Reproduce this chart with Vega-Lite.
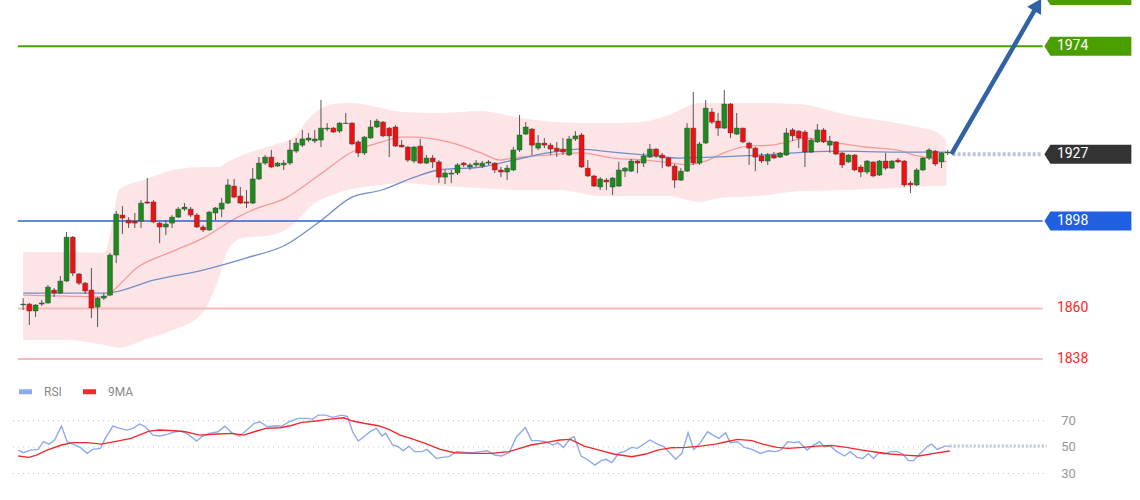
{
"$schema": "https://vega.github.io/schema/vega-lite/v6.json",
"background": "white",
"padding": 0,
"spacing": 0,
"config": {"view": {"stroke": null}, "font": "Roboto"},
"resolve": {"scale": {"x": "independent", "y": "independent", "color": "independent"}},
"datasets": {
"candles": [
{"t":0,"o":1861.5,"c":1861.9,"h":1864.5,"l":1859.3},
{"t":1,"o":1861.9,"c":1858.9,"h":1862.4,"l":1852.8},
{"t":2,"o":1858.9,"c":1861.5,"h":1861.9,"l":1856.3},
{"t":3,"o":1861.9,"c":1862.4,"h":1863.7,"l":1861.1},
{"t":4,"o":1862.4,"c":1869.3,"h":1870.2,"l":1862.0},
{"t":5,"o":1868.0,"c":1866.7,"h":1868.9,"l":1865.0},
{"t":6,"o":1866.7,"c":1871.9,"h":1874.1,"l":1866.3},
{"t":7,"o":1871.9,"c":1891.0,"h":1893.2,"l":1871.5},
{"t":8,"o":1891.0,"c":1875.4,"h":1891.5,"l":1874.1},
{"t":9,"o":1875.0,"c":1871.0,"h":1875.4,"l":1870.2},
{"t":10,"o":1871.0,"c":1867.6,"h":1871.5,"l":1866.3},
{"t":11,"o":1868.0,"c":1860.2,"h":1877.6,"l":1855.8},
{"t":12,"o":1860.6,"c":1864.5,"h":1865.0,"l":1851.9},
{"t":13,"o":1864.5,"c":1865.4,"h":1866.7,"l":1863.7},
{"t":14,"o":1865.8,"c":1883.2,"h":1884.1,"l":1865.4},
{"t":15,"o":1883.2,"c":1901.0,"h":1902.4,"l":1879.7},
{"t":16,"o":1900.6,"c":1899.3,"h":1904.5,"l":1892.4},
{"t":17,"o":1898.4,"c":1897.1,"h":1899.7,"l":1895.0},
{"t":18,"o":1898.0,"c":1897.1,"h":1901.5,"l":1895.0},
{"t":19,"o":1898.0,"c":1905.8,"h":1907.1,"l":1895.0},
{"t":20,"o":1906.3,"c":1905.8,"h":1916.7,"l":1905.4},
{"t":21,"o":1906.3,"c":1897.6,"h":1907.1,"l":1897.1},
{"t":22,"o":1897.1,"c":1895.4,"h":1897.6,"l":1888.4},
{"t":23,"o":1895.4,"c":1896.7,"h":1898.4,"l":1891.9},
{"t":24,"o":1897.1,"c":1899.7,"h":1900.6,"l":1895.0},
{"t":25,"o":1899.7,"c":1903.2,"h":1904.1,"l":1899.3},
{"t":26,"o":1903.2,"c":1904.1,"h":1905.8,"l":1902.4},
{"t":27,"o":1903.2,"c":1900.6,"h":1904.1,"l":1899.7},
{"t":28,"o":1900.6,"c":1895.4,"h":1901.5,"l":1895.0},
{"t":29,"o":1895.4,"c":1894.1,"h":1896.3,"l":1893.2},
{"t":30,"o":1894.1,"c":1901.9,"h":1902.4,"l":1893.7},
{"t":31,"o":1901.5,"c":1903.7,"h":1904.1,"l":1898.4},
{"t":32,"o":1903.2,"c":1905.8,"h":1908.0,"l":1899.7},
{"t":33,"o":1905.8,"c":1913.7,"h":1916.3,"l":1905.4},
{"t":34,"o":1913.2,"c":1908.4,"h":1916.3,"l":1908.0},
{"t":35,"o":1908.9,"c":1905.8,"h":1912.8,"l":1905.4},
{"t":36,"o":1906.3,"c":1905.8,"h":1911.5,"l":1903.7},
{"t":37,"o":1905.8,"c":1916.3,"h":1921.0,"l":1905.4},
{"t":38,"o":1916.3,"c":1923.2,"h":1925.8,"l":1915.8},
{"t":39,"o":1923.2,"c":1925.8,"h":1926.7,"l":1922.4},
{"t":40,"o":1925.8,"c":1921.5,"h":1928.9,"l":1921.0},
{"t":41,"o":1921.9,"c":1923.2,"h":1923.7,"l":1921.5},
{"t":42,"o":1922.4,"c":1923.2,"h":1924.5,"l":1920.2},
{"t":43,"o":1923.2,"c":1928.9,"h":1933.2,"l":1922.4},
{"t":44,"o":1928.4,"c":1931.9,"h":1934.1,"l":1927.6},
{"t":45,"o":1931.0,"c":1933.7,"h":1937.6,"l":1930.2},
{"t":46,"o":1933.2,"c":1934.1,"h":1936.3,"l":1932.4},
{"t":47,"o":1932.8,"c":1933.7,"h":1937.6,"l":1931.9},
{"t":48,"o":1933.2,"c":1938.4,"h":1950.6,"l":1930.2},
{"t":49,"o":1938.0,"c":1938.4,"h":1940.6,"l":1937.1},
{"t":50,"o":1938.4,"c":1936.7,"h":1938.9,"l":1936.3},
{"t":51,"o":1937.1,"c":1940.6,"h":1941.0,"l":1936.3},
{"t":52,"o":1940.4,"c":1940.6,"h":1945.0,"l":1940.2},
{"t":53,"o":1940.6,"c":1931.5,"h":1941.0,"l":1931.0},
{"t":54,"o":1932.4,"c":1927.6,"h":1933.2,"l":1925.8},
{"t":55,"o":1927.6,"c":1934.5,"h":1935.0,"l":1926.7},
{"t":56,"o":1934.1,"c":1938.9,"h":1941.9,"l":1933.7},
{"t":57,"o":1938.9,"c":1941.5,"h":1942.4,"l":1938.4},
{"t":58,"o":1941.0,"c":1935.0,"h":1941.5,"l":1934.5},
{"t":59,"o":1938.4,"c":1935.0,"h":1938.9,"l":1925.8},
{"t":60,"o":1938.9,"c":1930.6,"h":1939.7,"l":1930.2},
{"t":61,"o":1931.0,"c":1930.2,"h":1933.2,"l":1930.0},
{"t":62,"o":1930.2,"c":1924.5,"h":1930.6,"l":1923.7},
{"t":63,"o":1924.1,"c":1930.2,"h":1930.6,"l":1923.2},
{"t":64,"o":1930.6,"c":1923.2,"h":1933.7,"l":1922.8},
{"t":65,"o":1923.2,"c":1925.4,"h":1926.7,"l":1922.8},
{"t":66,"o":1925.4,"c":1923.7,"h":1926.7,"l":1921.0},
{"t":67,"o":1923.7,"c":1917.1,"h":1924.5,"l":1914.5},
{"t":68,"o":1917.1,"c":1918.9,"h":1920.2,"l":1914.1},
{"t":69,"o":1918.4,"c":1918.9,"h":1920.2,"l":1914.5},
{"t":70,"o":1918.9,"c":1922.4,"h":1923.2,"l":1918.0},
{"t":71,"o":1923.2,"c":1922.4,"h":1923.7,"l":1921.5},
{"t":72,"o":1921.5,"c":1922.4,"h":1923.2,"l":1920.2},
{"t":73,"o":1922.4,"c":1923.2,"h":1924.5,"l":1921.5},
{"t":74,"o":1921.9,"c":1923.2,"h":1924.1,"l":1921.0},
{"t":75,"o":1923.2,"c":1923.7,"h":1924.5,"l":1922.4},
{"t":76,"o":1923.2,"c":1920.2,"h":1923.5,"l":1918.9},
{"t":77,"o":1920.2,"c":1919.3,"h":1921.5,"l":1917.1},
{"t":78,"o":1919.3,"c":1921.0,"h":1922.4,"l":1915.8},
{"t":79,"o":1920.2,"c":1928.9,"h":1930.2,"l":1919.7},
{"t":80,"o":1928.9,"c":1935.4,"h":1944.1,"l":1928.0},
{"t":81,"o":1935.8,"c":1938.9,"h":1941.0,"l":1935.4},
{"t":82,"o":1938.0,"c":1931.0,"h":1938.4,"l":1926.7},
{"t":83,"o":1929.7,"c":1931.9,"h":1935.4,"l":1928.9},
{"t":84,"o":1931.9,"c":1931.0,"h":1934.1,"l":1929.7},
{"t":85,"o":1931.0,"c":1929.3,"h":1931.9,"l":1926.7},
{"t":86,"o":1929.7,"c":1928.4,"h":1932.4,"l":1925.8},
{"t":87,"o":1929.3,"c":1928.0,"h":1934.1,"l":1926.7},
{"t":88,"o":1926.7,"c":1933.7,"h":1935.0,"l":1926.3},
{"t":89,"o":1933.7,"c":1935.0,"h":1937.1,"l":1932.8},
{"t":90,"o":1935.4,"c":1921.5,"h":1936.3,"l":1921.0},
{"t":91,"o":1921.0,"c":1917.6,"h":1924.5,"l":1917.1},
{"t":92,"o":1917.6,"c":1913.2,"h":1918.0,"l":1912.8},
{"t":93,"o":1912.8,"c":1916.3,"h":1917.1,"l":1911.5},
{"t":94,"o":1915.8,"c":1915.0,"h":1916.7,"l":1911.5},
{"t":95,"o":1912.8,"c":1916.7,"h":1917.1,"l":1909.3},
{"t":96,"o":1913.2,"c":1920.2,"h":1923.7,"l":1912.8},
{"t":97,"o":1919.7,"c":1921.0,"h":1921.5,"l":1917.1},
{"t":98,"o":1919.7,"c":1924.1,"h":1925.0,"l":1919.3},
{"t":99,"o":1924.1,"c":1923.2,"h":1924.5,"l":1918.9},
{"t":100,"o":1923.2,"c":1926.3,"h":1927.6,"l":1921.5},
{"t":101,"o":1925.8,"c":1929.3,"h":1931.5,"l":1925.4},
{"t":102,"o":1929.3,"c":1926.3,"h":1929.7,"l":1925.4},
{"t":103,"o":1926.7,"c":1925.4,"h":1927.6,"l":1921.0},
{"t":104,"o":1925.4,"c":1921.9,"h":1925.8,"l":1921.5},
{"t":105,"o":1921.9,"c":1915.8,"h":1922.8,"l":1912.4},
{"t":106,"o":1915.8,"c":1919.7,"h":1921.0,"l":1915.4},
{"t":107,"o":1919.7,"c":1938.4,"h":1940.6,"l":1919.3},
{"t":108,"o":1938.4,"c":1923.2,"h":1954.1,"l":1922.4},
{"t":109,"o":1923.2,"c":1931.5,"h":1932.4,"l":1922.4},
{"t":110,"o":1931.9,"c":1947.1,"h":1950.6,"l":1931.5},
{"t":111,"o":1945.4,"c":1941.0,"h":1947.1,"l":1940.2},
{"t":112,"o":1941.5,"c":1938.4,"h":1945.0,"l":1935.0},
{"t":113,"o":1938.4,"c":1948.9,"h":1955.0,"l":1938.0},
{"t":114,"o":1948.9,"c":1936.3,"h":1949.3,"l":1934.1},
{"t":115,"o":1935.8,"c":1938.4,"h":1945.0,"l":1935.4},
{"t":116,"o":1938.4,"c":1932.4,"h":1938.6,"l":1931.9},
{"t":117,"o":1931.9,"c":1929.7,"h":1932.4,"l":1922.4},
{"t":118,"o":1929.7,"c":1925.8,"h":1930.2,"l":1919.7},
{"t":119,"o":1926.3,"c":1924.1,"h":1927.6,"l":1923.2},
{"t":120,"o":1924.1,"c":1926.7,"h":1927.6,"l":1922.4},
{"t":121,"o":1926.7,"c":1925.4,"h":1928.0,"l":1925.0},
{"t":122,"o":1925.8,"c":1927.6,"h":1928.0,"l":1925.4},
{"t":123,"o":1926.7,"c":1936.3,"h":1938.4,"l":1926.3},
{"t":124,"o":1937.6,"c":1935.0,"h":1938.4,"l":1932.8},
{"t":125,"o":1937.1,"c":1934.1,"h":1937.6,"l":1929.7},
{"t":126,"o":1936.7,"c":1928.0,"h":1937.6,"l":1921.5},
{"t":127,"o":1928.0,"c":1933.2,"h":1934.1,"l":1927.6},
{"t":128,"o":1932.4,"c":1937.6,"h":1940.2,"l":1932.0},
{"t":129,"o":1937.6,"c":1932.4,"h":1938.4,"l":1931.9},
{"t":130,"o":1931.0,"c":1932.8,"h":1935.0,"l":1927.6},
{"t":131,"o":1932.4,"c":1927.1,"h":1932.8,"l":1926.7},
{"t":132,"o":1927.6,"c":1922.4,"h":1928.0,"l":1921.0},
{"t":133,"o":1923.7,"c":1926.7,"h":1927.1,"l":1923.2},
{"t":134,"o":1926.7,"c":1920.2,"h":1927.1,"l":1919.7},
{"t":135,"o":1921.5,"c":1919.3,"h":1922.4,"l":1917.1},
{"t":136,"o":1919.3,"c":1924.1,"h":1924.5,"l":1918.4},
{"t":137,"o":1923.7,"c":1917.6,"h":1923.9,"l":1917.1},
{"t":138,"o":1918.0,"c":1924.1,"h":1924.5,"l":1917.6},
{"t":139,"o":1924.1,"c":1921.0,"h":1927.6,"l":1920.2},
{"t":140,"o":1921.0,"c":1924.1,"h":1924.5,"l":1920.6},
{"t":141,"o":1924.5,"c":1923.7,"h":1925.4,"l":1923.2},
{"t":142,"o":1924.1,"c":1913.7,"h":1924.5,"l":1912.8},
{"t":143,"o":1914.5,"c":1913.7,"h":1915.4,"l":1910.2},
{"t":144,"o":1913.7,"c":1920.2,"h":1921.0,"l":1913.2},
{"t":145,"o":1920.2,"c":1925.4,"h":1925.8,"l":1919.7},
{"t":146,"o":1925.4,"c":1928.9,"h":1929.7,"l":1924.5},
{"t":147,"o":1928.4,"c":1922.8,"h":1928.9,"l":1921.9},
{"t":148,"o":1923.7,"c":1927.6,"h":1928.0,"l":1921.0},
{"t":149,"o":1927.6,"c":1928.0,"h":1928.9,"l":1926.7}
],
"bands": [
{"t":0,"up":1884.5,"lo":1846.3},{"t":6.7,"up":1884.5,"lo":1846.3},{"t":13.1,"up":1884.1,"lo":1844.1},
{"t":14.6,"up":1900.6,"lo":1843.2},{"t":15.4,"up":1911.5,"lo":1842.8},{"t":19.4,"up":1915.8,"lo":1846.3},
{"t":24.2,"up":1920.2,"lo":1850.6},{"t":29.0,"up":1921.5,"lo":1858.4},{"t":31.4,"up":1921.5,"lo":1872.3},
{"t":33.0,"up":1923.7,"lo":1885.4},{"t":35.4,"up":1926.7,"lo":1890.6},{"t":40.2,"up":1931.0,"lo":1891.9},
{"t":43.4,"up":1934.1,"lo":1896.3},{"t":46.6,"up":1944.1,"lo":1905.0},{"t":49.8,"up":1948.9,"lo":1909.3},
{"t":53.0,"up":1949.3,"lo":1911.9},{"t":57.8,"up":1947.1,"lo":1913.7},{"t":61.0,"up":1945.4,"lo":1914.5},
{"t":67.4,"up":1945.0,"lo":1913.2},{"t":73.8,"up":1945.8,"lo":1912.4},{"t":80.1,"up":1942.8,"lo":1911.5},
{"t":86.5,"up":1941.0,"lo":1911.5},{"t":92.9,"up":1940.6,"lo":1908.9},{"t":99.3,"up":1941.0,"lo":1908.9},
{"t":104.1,"up":1944.1,"lo":1908.9},{"t":108.9,"up":1949.3,"lo":1906.3},{"t":112.1,"up":1949.3,"lo":1908.0},
{"t":118.5,"up":1949.3,"lo":1908.9},{"t":124.9,"up":1948.9,"lo":1911.0},{"t":132.9,"up":1944.1,"lo":1911.5},
{"t":140.8,"up":1940.6,"lo":1912.4},{"t":144.0,"up":1938.9,"lo":1912.8},{"t":147.2,"up":1936.7,"lo":1913.2},
{"t":148.8,"up":1933.2,"lo":1913.2}
],
"ma20": [
{"t":0,"p":1865.8},{"t":6.7,"p":1865.4},{"t":13.1,"p":1865.0},{"t":14.6,"p":1868.0},{"t":18.3,"p":1877.6},
{"t":23.8,"p":1884.5},{"t":29.0,"p":1890.6},{"t":34.3,"p":1899.3},{"t":37.0,"p":1902.8},{"t":42.3,"p":1908.0},
{"t":47.7,"p":1918.0},{"t":53.0,"p":1928.0},{"t":57.8,"p":1932.4},{"t":61.0,"p":1934.5},{"t":63.1,"p":1934.5},
{"t":68.5,"p":1932.4},{"t":73.8,"p":1927.6},{"t":76.9,"p":1924.5},{"t":79.0,"p":1925.4},{"t":84.5,"p":1926.7},
{"t":89.7,"p":1927.6},{"t":92.4,"p":1926.7},{"t":95.0,"p":1925.4},{"t":100.4,"p":1924.5},{"t":104.6,"p":1923.2},
{"t":107.3,"p":1922.4},{"t":110.0,"p":1924.1},{"t":113.2,"p":1928.0},{"t":116.9,"p":1930.6},{"t":120.6,"p":1931.0},
{"t":123.3,"p":1932.4},{"t":126.0,"p":1934.1},{"t":131.2,"p":1931.9},{"t":135.6,"p":1930.2},{"t":140.8,"p":1928.9},
{"t":143.6,"p":1926.7},{"t":146.1,"p":1925.4},{"t":148.8,"p":1923.7}
],
"ma50": [
{"t":0,"p":1866.7},{"t":13.1,"p":1866.7},{"t":14.6,"p":1867.1},{"t":21.0,"p":1872.3},{"t":29.0,"p":1876.7},
{"t":35.9,"p":1881.9},{"t":42.3,"p":1887.6},{"t":47.7,"p":1897.6},{"t":53.0,"p":1908.4},{"t":57.8,"p":1911.5},
{"t":63.1,"p":1917.1},{"t":66.9,"p":1920.2},{"t":73.8,"p":1921.5},{"t":79.0,"p":1924.5},{"t":84.5,"p":1927.6},
{"t":89.7,"p":1929.3},{"t":95.0,"p":1928.0},{"t":100.4,"p":1926.7},{"t":105.7,"p":1925.4},{"t":111.0,"p":1925.8},
{"t":118.5,"p":1926.7},{"t":131.2,"p":1928.4},{"t":140.8,"p":1928.0},{"t":148.8,"p":1928.0}
],
"levels": [
{"p":1996,"name":"r2","lab":"1996"},
{"p":1974,"name":"r1","lab":"1974"},
{"p":1927,"name":"last","lab":"1927"},
{"p":1898,"name":"p1","lab":"1898"},
{"p":1860,"name":"s1","lab":"1860"},
{"p":1838,"name":"s2","lab":"1838"}
],
"arrow": [{"t":149.6,"p":1927.1},{"t":163.3,"p":1991.0}],
"arrowhead": [{"t":163.5,"p":1992.0}],
"rsi": [
{"t":0,"v":47.7,"s":"RSI"},{"t":0.8,"v":45.7,"s":"RSI"},{"t":2.0,"v":47.7,"s":"RSI"},{"t":3.2,"v":48.2,"s":"RSI"},{"t":4.0,"v":54.0,"s":"RSI"},
{"t":4.9,"v":52.2,"s":"RSI"},{"t":5.8,"v":55.3,"s":"RSI"},{"t":6.9,"v":65.8,"s":"RSI"},{"t":7.8,"v":54.0,"s":"RSI"},{"t":8.7,"v":52.2,"s":"RSI"},
{"t":9.9,"v":49.7,"s":"RSI"},{"t":11.0,"v":45.2,"s":"RSI"},{"t":11.9,"v":48.2,"s":"RSI"},{"t":13.1,"v":49.0,"s":"RSI"},{"t":13.9,"v":56.5,"s":"RSI"},
{"t":15.1,"v":65.8,"s":"RSI"},{"t":16.2,"v":64.1,"s":"RSI"},{"t":17.4,"v":62.8,"s":"RSI"},{"t":18.3,"v":64.1,"s":"RSI"},{"t":19.4,"v":67.4,"s":"RSI"},
{"t":20.3,"v":65.3,"s":"RSI"},{"t":21.5,"v":59.0,"s":"RSI"},{"t":22.6,"v":58.3,"s":"RSI"},{"t":23.8,"v":59.5,"s":"RSI"},{"t":25.0,"v":61.5,"s":"RSI"},
{"t":26.1,"v":62.0,"s":"RSI"},{"t":27.3,"v":59.0,"s":"RSI"},{"t":28.5,"v":54.5,"s":"RSI"},{"t":29.3,"v":57.8,"s":"RSI"},{"t":30.5,"v":60.3,"s":"RSI"},
{"t":31.9,"v":61.5,"s":"RSI"},{"t":33.0,"v":65.8,"s":"RSI"},{"t":34.2,"v":60.3,"s":"RSI"},{"t":35.4,"v":58.3,"s":"RSI"},{"t":36.6,"v":63.3,"s":"RSI"},
{"t":37.7,"v":67.9,"s":"RSI"},{"t":38.6,"v":69.1,"s":"RSI"},{"t":39.8,"v":65.3,"s":"RSI"},{"t":41.2,"v":66.1,"s":"RSI"},{"t":42.1,"v":65.8,"s":"RSI"},
{"t":43.3,"v":69.1,"s":"RSI"},{"t":44.7,"v":71.6,"s":"RSI"},{"t":46.2,"v":71.6,"s":"RSI"},{"t":47.0,"v":70.9,"s":"RSI"},{"t":47.9,"v":74.1,"s":"RSI"},
{"t":49.1,"v":74.1,"s":"RSI"},{"t":50.2,"v":72.4,"s":"RSI"},{"t":51.7,"v":74.1,"s":"RSI"},{"t":52.6,"v":72.9,"s":"RSI"},{"t":53.4,"v":61.5,"s":"RSI"},
{"t":54.3,"v":54.5,"s":"RSI"},{"t":55.2,"v":57.8,"s":"RSI"},{"t":56.3,"v":62.0,"s":"RSI"},{"t":57.2,"v":64.1,"s":"RSI"},{"t":58.1,"v":58.3,"s":"RSI"},
{"t":58.7,"v":60.3,"s":"RSI"},{"t":59.8,"v":51.5,"s":"RSI"},{"t":60.7,"v":50.2,"s":"RSI"},{"t":61.5,"v":47.2,"s":"RSI"},{"t":62.4,"v":50.7,"s":"RSI"},
{"t":63.3,"v":46.5,"s":"RSI"},{"t":64.5,"v":46.5,"s":"RSI"},{"t":65.3,"v":48.2,"s":"RSI"},{"t":66.8,"v":41.4,"s":"RSI"},{"t":67.7,"v":42.2,"s":"RSI"},
{"t":68.8,"v":42.7,"s":"RSI"},{"t":70.0,"v":46.5,"s":"RSI"},{"t":71.1,"v":46.0,"s":"RSI"},{"t":72.6,"v":45.7,"s":"RSI"},{"t":73.8,"v":46.5,"s":"RSI"},
{"t":74.9,"v":47.2,"s":"RSI"},{"t":76.1,"v":44.0,"s":"RSI"},{"t":77.2,"v":43.2,"s":"RSI"},{"t":78.4,"v":45.7,"s":"RSI"},{"t":79.6,"v":57.8,"s":"RSI"},
{"t":81.0,"v":64.8,"s":"RSI"},{"t":82.0,"v":54.8,"s":"RSI"},{"t":83.1,"v":54.8,"s":"RSI"},{"t":84.2,"v":54.0,"s":"RSI"},{"t":85.4,"v":51.5,"s":"RSI"},
{"t":86.2,"v":53.3,"s":"RSI"},{"t":87.1,"v":49.7,"s":"RSI"},{"t":88.2,"v":56.5,"s":"RSI"},{"t":88.8,"v":57.8,"s":"RSI"},{"t":89.9,"v":43.2,"s":"RSI"},
{"t":91.0,"v":40.2,"s":"RSI"},{"t":92.1,"v":36.4,"s":"RSI"},{"t":93.1,"v":39.7,"s":"RSI"},{"t":93.9,"v":40.7,"s":"RSI"},{"t":94.8,"v":38.2,"s":"RSI"},
{"t":96.0,"v":45.7,"s":"RSI"},{"t":96.8,"v":46.5,"s":"RSI"},{"t":98.0,"v":49.7,"s":"RSI"},{"t":98.9,"v":49.0,"s":"RSI"},{"t":100.9,"v":55.3,"s":"RSI"},
{"t":102.1,"v":52.2,"s":"RSI"},{"t":103.2,"v":50.2,"s":"RSI"},{"t":105.0,"v":40.7,"s":"RSI"},{"t":106.0,"v":45.2,"s":"RSI"},{"t":107.0,"v":60.8,"s":"RSI"},
{"t":107.9,"v":48.2,"s":"RSI"},{"t":108.8,"v":52.2,"s":"RSI"},{"t":110.1,"v":61.5,"s":"RSI"},{"t":111.4,"v":57.8,"s":"RSI"},{"t":111.9,"v":56.5,"s":"RSI"},
{"t":113.0,"v":60.8,"s":"RSI"},{"t":113.7,"v":53.3,"s":"RSI"},{"t":114.9,"v":54.0,"s":"RSI"},{"t":116.0,"v":49.7,"s":"RSI"},{"t":117.2,"v":48.2,"s":"RSI"},
{"t":118.6,"v":45.2,"s":"RSI"},{"t":119.8,"v":47.2,"s":"RSI"},{"t":121.0,"v":46.5,"s":"RSI"},{"t":121.8,"v":47.7,"s":"RSI"},{"t":122.9,"v":54.0,"s":"RSI"},
{"t":123.9,"v":53.3,"s":"RSI"},{"t":124.7,"v":54.0,"s":"RSI"},{"t":126.0,"v":47.7,"s":"RSI"},{"t":126.8,"v":50.7,"s":"RSI"},{"t":128.0,"v":54.0,"s":"RSI"},
{"t":128.8,"v":50.2,"s":"RSI"},{"t":129.7,"v":50.7,"s":"RSI"},{"t":130.8,"v":46.5,"s":"RSI"},{"t":132.0,"v":43.2,"s":"RSI"},{"t":132.9,"v":46.5,"s":"RSI"},
{"t":134.0,"v":42.2,"s":"RSI"},{"t":134.9,"v":41.4,"s":"RSI"},{"t":135.8,"v":45.2,"s":"RSI"},{"t":136.6,"v":41.4,"s":"RSI"},{"t":137.5,"v":45.7,"s":"RSI"},
{"t":138.4,"v":44.7,"s":"RSI"},{"t":139.3,"v":46.5,"s":"RSI"},{"t":140.4,"v":46.5,"s":"RSI"},{"t":141.3,"v":44.7,"s":"RSI"},{"t":142.2,"v":39.7,"s":"RSI"},
{"t":143.0,"v":39.7,"s":"RSI"},{"t":144.2,"v":45.7,"s":"RSI"},{"t":145.3,"v":50.7,"s":"RSI"},{"t":145.9,"v":52.2,"s":"RSI"},{"t":146.8,"v":48.2,"s":"RSI"},
{"t":148.0,"v":50.7,"s":"RSI"},{"t":148.8,"v":50.7,"s":"RSI"},
{"t":0,"v":43.2,"s":"9MA"},{"t":1.7,"v":42.2,"s":"9MA"},{"t":2.9,"v":43.9,"s":"9MA"},{"t":4.6,"v":47.7,"s":"9MA"},{"t":6.9,"v":51.5,"s":"9MA"},
{"t":8.7,"v":53.3,"s":"9MA"},{"t":11.0,"v":53.3,"s":"9MA"},{"t":13.3,"v":52.2,"s":"9MA"},{"t":16.2,"v":54.8,"s":"9MA"},{"t":18.0,"v":56.5,"s":"9MA"},
{"t":20.9,"v":62.0,"s":"9MA"},{"t":22.6,"v":62.8,"s":"9MA"},{"t":25.0,"v":62.3,"s":"9MA"},{"t":26.7,"v":61.5,"s":"9MA"},{"t":29.0,"v":59.0,"s":"9MA"},
{"t":31.9,"v":59.8,"s":"9MA"},{"t":34.2,"v":60.3,"s":"9MA"},{"t":36.0,"v":59.0,"s":"9MA"},{"t":37.7,"v":61.5,"s":"9MA"},{"t":39.5,"v":64.1,"s":"9MA"},
{"t":41.8,"v":64.6,"s":"9MA"},{"t":43.5,"v":66.1,"s":"9MA"},{"t":45.3,"v":68.6,"s":"9MA"},{"t":47.6,"v":69.6,"s":"9MA"},{"t":49.4,"v":70.9,"s":"9MA"},
{"t":52.0,"v":72.1,"s":"9MA"},{"t":53.4,"v":69.6,"s":"9MA"},{"t":55.2,"v":67.9,"s":"9MA"},{"t":57.5,"v":66.1,"s":"9MA"},{"t":59.2,"v":63.3,"s":"9MA"},
{"t":61.0,"v":59.0,"s":"9MA"},{"t":62.7,"v":56.5,"s":"9MA"},{"t":65.0,"v":52.7,"s":"9MA"},{"t":67.4,"v":48.2,"s":"9MA"},{"t":69.7,"v":45.7,"s":"9MA"},
{"t":72.6,"v":45.2,"s":"9MA"},{"t":75.5,"v":45.2,"s":"9MA"},{"t":78.4,"v":46.5,"s":"9MA"},{"t":80.1,"v":49.0,"s":"9MA"},{"t":81.9,"v":51.5,"s":"9MA"},
{"t":84.2,"v":53.3,"s":"9MA"},{"t":86.5,"v":55.3,"s":"9MA"},{"t":88.2,"v":55.8,"s":"9MA"},{"t":90.4,"v":50.7,"s":"9MA"},{"t":92.8,"v":47.7,"s":"9MA"},
{"t":95.1,"v":44.7,"s":"9MA"},{"t":98.0,"v":42.7,"s":"9MA"},{"t":100.3,"v":44.7,"s":"9MA"},{"t":102.1,"v":47.7,"s":"9MA"},{"t":104.4,"v":49.5,"s":"9MA"},
{"t":106.7,"v":49.7,"s":"9MA"},{"t":109.0,"v":50.7,"s":"9MA"},{"t":111.4,"v":52.2,"s":"9MA"},{"t":113.1,"v":54.0,"s":"9MA"},{"t":114.9,"v":55.8,"s":"9MA"},
{"t":117.2,"v":54.8,"s":"9MA"},{"t":118.9,"v":52.2,"s":"9MA"},{"t":121.2,"v":49.7,"s":"9MA"},{"t":123.0,"v":49.0,"s":"9MA"},{"t":125.3,"v":49.7,"s":"9MA"},
{"t":127.6,"v":50.7,"s":"9MA"},{"t":129.9,"v":51.2,"s":"9MA"},{"t":132.3,"v":49.7,"s":"9MA"},{"t":134.8,"v":47.7,"s":"9MA"},{"t":136.9,"v":46.2,"s":"9MA"},
{"t":139.3,"v":44.7,"s":"9MA"},{"t":141.6,"v":43.9,"s":"9MA"},{"t":143.9,"v":43.2,"s":"9MA"},{"t":146.3,"v":45.2,"s":"9MA"},{"t":148.8,"v":47.0,"s":"9MA"}
],
"grid": [{"v":70},{"v":50},{"v":30}]
},
"vconcat": [
{
"width": 1140,
"height": 380,
"layer": [
{"data": {"name": "bands"},
 "mark": {"type": "area", "color": "#fbcdd3", "opacity": 0.55, "interpolate": "monotone", "clip": true},
 "encoding": {
  "x": {"field": "t", "type": "quantitative", "scale": {"domain": [-2.923, 179.19], "nice": false, "zero": false}, "axis": null},
  "y": {"field": "up", "type": "quantitative", "scale": {"domain": [1828.9, 1994.1], "nice": false, "zero": false}, "axis": null},
  "y2": {"field": "lo"}}},
{"data": {"name": "ma20"},
 "mark": {"type": "line", "color": "#f59a9a", "strokeWidth": 1.3, "interpolate": "monotone", "clip": true},
 "encoding": {
  "x": {"field": "t", "type": "quantitative", "scale": {"domain": [-2.923, 179.19], "nice": false, "zero": false}, "axis": null},
  "y": {"field": "p", "type": "quantitative", "scale": {"domain": [1828.9, 1994.1], "nice": false, "zero": false}, "axis": null}}},
{"data": {"name": "ma50"},
 "mark": {"type": "line", "color": "#7090c8", "strokeWidth": 1.3, "interpolate": "monotone", "clip": true},
 "encoding": {
  "x": {"field": "t", "type": "quantitative", "scale": {"domain": [-2.923, 179.19], "nice": false, "zero": false}, "axis": null},
  "y": {"field": "p", "type": "quantitative", "scale": {"domain": [1828.9, 1994.1], "nice": false, "zero": false}, "axis": null}}},
{"data": {"name": "levels"},
 "transform": [{"filter": "datum.name != 'last' && datum.name != 'p1'"}],
 "mark": {"type": "rule", "strokeWidth": 2, "clip": true},
 "encoding": {
  "x": {"datum": -0.85, "type": "quantitative", "scale": {"domain": [-2.923, 179.19], "nice": false, "zero": false}, "axis": null},
  "x2": {"datum": 164.3},
  "y": {"field": "p", "type": "quantitative", "scale": {"domain": [1828.9, 1994.1], "nice": false, "zero": false}, "axis": null},
  "color": {"field": "name", "type": "nominal", "scale": {"domain": ["r2", "r1", "last", "p1", "s1", "s2"], "range": ["#4a9e00", "#4a9e00", "#333333", "#1f5fe0", "#f9b9b9", "#f9b9b9"]}, "legend": null}}},
{"data": {"name": "levels"},
 "transform": [{"filter": "datum.name == 'p1'"}],
 "mark": {"type": "rule", "strokeWidth": 1.5, "color": "#2a62d8", "clip": true},
 "encoding": {
  "x": {"datum": -0.85, "type": "quantitative", "scale": {"domain": [-2.923, 179.19], "nice": false, "zero": false}, "axis": null},
  "x2": {"datum": 164.3},
  "y": {"field": "p", "type": "quantitative", "scale": {"domain": [1828.9, 1994.1], "nice": false, "zero": false}, "axis": null}}},
{"data": {"name": "levels"},
 "transform": [{"filter": "datum.name == 'last'"}],
 "mark": {"type": "rule", "strokeWidth": 4, "color": "#bcc4d6", "strokeDash": [3, 2], "clip": true},
 "encoding": {
  "x": {"datum": 149.8, "type": "quantitative", "scale": {"domain": [-2.923, 179.19], "nice": false, "zero": false}, "axis": null},
  "x2": {"datum": 164.3},
  "y": {"field": "p", "type": "quantitative", "scale": {"domain": [1828.9, 1994.1], "nice": false, "zero": false}, "axis": null}}},
{"data": {"name": "candles"},
 "mark": {"type": "rule", "color": "#555555", "strokeWidth": 1, "clip": true},
 "encoding": {
  "x": {"field": "t", "type": "quantitative", "scale": {"domain": [-2.923, 179.19], "nice": false, "zero": false}, "axis": null},
  "y": {"field": "l", "type": "quantitative", "scale": {"domain": [1828.9, 1994.1], "nice": false, "zero": false}, "axis": null},
  "y2": {"field": "h"}}},
{"data": {"name": "candles"},
 "mark": {"type": "bar", "size": 5, "stroke": "#3a3a3a", "strokeWidth": 0.4, "clip": true},
 "encoding": {
  "x": {"field": "t", "type": "quantitative", "scale": {"domain": [-2.923, 179.19], "nice": false, "zero": false}, "axis": null},
  "y": {"field": "o", "type": "quantitative", "scale": {"domain": [1828.9, 1994.1], "nice": false, "zero": false}, "axis": null},
  "y2": {"field": "c"},
  "color": {"condition": {"test": "datum.c >= datum.o", "value": "#1d8a1d"}, "value": "#ee1111"}}},
{"data": {"name": "arrow"},
 "mark": {"type": "line", "color": "#2f62a6", "strokeWidth": 4.5, "clip": true},
 "encoding": {
  "x": {"field": "t", "type": "quantitative", "scale": {"domain": [-2.923, 179.19], "nice": false, "zero": false}, "axis": null},
  "y": {"field": "p", "type": "quantitative", "scale": {"domain": [1828.9, 1994.1], "nice": false, "zero": false}, "axis": null}}},
{"data": {"name": "arrowhead"},
 "mark": {"type": "point", "shape": "triangle-up", "filled": true, "opacity": 1, "size": 260, "angle": 30.5, "color": "#2f62a6", "clip": true},
 "encoding": {
  "x": {"field": "t", "type": "quantitative", "scale": {"domain": [-2.923, 179.19], "nice": false, "zero": false}, "axis": null},
  "y": {"field": "p", "type": "quantitative", "scale": {"domain": [1828.9, 1994.1], "nice": false, "zero": false}, "axis": null}}},
{"data": {"name": "levels"},
 "transform": [{"filter": "datum.name == 'r2' || datum.name == 'r1' || datum.name == 'last' || datum.name == 'p1'"}],
 "mark": {"type": "point", "shape": "M-1,0L-0.862,-0.218L1,-0.218L1,0.218L-0.862,0.218Z", "filled": true, "opacity": 1, "size": 7569, "clip": true},
 "encoding": {
  "x": {"datum": 171.6, "type": "quantitative", "scale": {"domain": [-2.923, 179.19], "nice": false, "zero": false}, "axis": null},
  "y": {"field": "p", "type": "quantitative", "scale": {"domain": [1828.9, 1994.1], "nice": false, "zero": false}, "axis": null},
  "color": {"field": "name", "type": "nominal", "scale": {"domain": ["r2", "r1", "last", "p1", "s1", "s2"], "range": ["#4a9e00", "#4a9e00", "#2f2f2f", "#1f5fe8", "#f9b9b9", "#f9b9b9"]}, "legend": null}}},
{"data": {"name": "levels"},
 "transform": [{"filter": "datum.name != 'r2'"}],
 "mark": {"type": "text", "align": "left", "baseline": "middle", "fontSize": 14, "font": "Roboto", "clip": true},
 "encoding": {
  "x": {"datum": 166.6, "type": "quantitative", "scale": {"domain": [-2.923, 179.19], "nice": false, "zero": false}, "axis": null},
  "y": {"field": "p", "type": "quantitative", "scale": {"domain": [1828.9, 1994.1], "nice": false, "zero": false}, "axis": null},
  "text": {"field": "lab"},
  "color": {"condition": {"test": "datum.p < 1870", "value": "#ff2424"}, "value": "#ffffff"}}}
]
},
{
"width": 1140,
"height": 120,
"layer": [
{"data": {"name": "grid"},
 "mark": {"type": "rule", "color": "#c4c4c4", "strokeWidth": 1.2, "strokeDash": [1, 4]},
 "encoding": {
  "x": {"datum": -0.85, "type": "quantitative", "scale": {"domain": [-2.923, 179.19], "nice": false, "zero": false}, "axis": null},
  "x2": {"datum": 164.3},
  "y": {"field": "v", "type": "quantitative", "scale": {"domain": [10.0, 100.6], "nice": false, "zero": false}, "axis": null}}},
{"data": {"name": "grid"},
 "mark": {"type": "text", "align": "left", "baseline": "middle", "fontSize": 13, "color": "#999999", "font": "Roboto"},
 "encoding": {
  "x": {"datum": 166.6, "type": "quantitative", "scale": {"domain": [-2.923, 179.19], "nice": false, "zero": false}, "axis": null},
  "y": {"field": "v", "type": "quantitative", "scale": {"domain": [10.0, 100.6], "nice": false, "zero": false}, "axis": null},
  "text": {"field": "v"}}},
{"data": {"values": [{"v": 50.8}]},
 "mark": {"type": "rule", "color": "#b7c4e4", "strokeWidth": 3, "strokeDash": [2, 2]},
 "encoding": {
  "x": {"datum": 148.8, "type": "quantitative", "scale": {"domain": [-2.923, 179.19], "nice": false, "zero": false}, "axis": null},
  "x2": {"datum": 164.3},
  "y": {"field": "v", "type": "quantitative", "scale": {"domain": [10.0, 100.6], "nice": false, "zero": false}, "axis": null}}},
{"data": {"name": "rsi"},
 "mark": {"type": "line", "strokeWidth": 1.4},
 "encoding": {
  "x": {"field": "t", "type": "quantitative", "scale": {"domain": [-2.923, 179.19], "nice": false, "zero": false}, "axis": null},
  "y": {"field": "v", "type": "quantitative", "scale": {"domain": [10.0, 100.6], "nice": false, "zero": false}, "axis": null},
  "color": {"field": "s", "type": "nominal", "scale": {"domain": ["RSI", "9MA"], "range": ["#8ea9ec", "#f02a2a"]},
   "legend": {"orient": "none", "legendX": 16, "legendY": 2, "direction": "horizontal", "title": null, "symbolType": "stroke", "symbolStrokeWidth": 5, "symbolSize": 170, "labelFontSize": 12, "labelColor": "#888888", "labelFont": "Roboto", "columnPadding": 10, "labelOffset": 9, "padding": 0}}}}
]
}
]
}
